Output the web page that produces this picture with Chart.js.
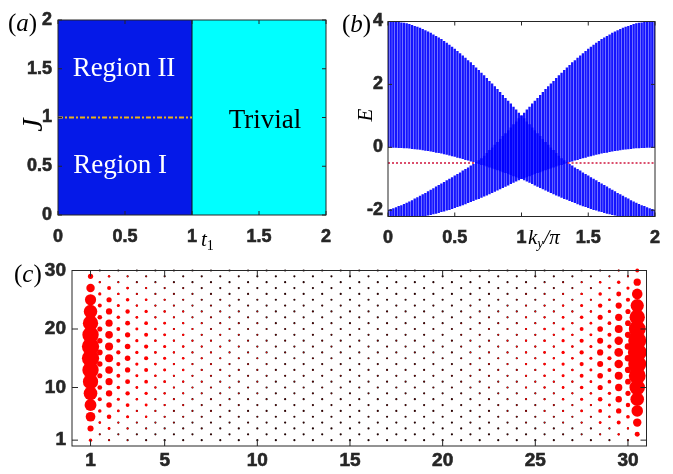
<!DOCTYPE html>
<html>
<head>
<meta charset="utf-8">
<script src="https://cdn.jsdelivr.net/npm/chart.js@4.4.0/dist/chart.umd.min.js"></script>
<style>
  html, body { margin: 0; padding: 0; background: #fff; }
  #wrap { position: relative; width: 673px; height: 474px; }
  #wrap canvas { position: absolute; left: 0; top: 0; }
</style>
</head>
<body>
<div id="wrap">
  <canvas id="phaseChart" width="673" height="474"></canvas>
  <canvas id="bandChart" width="673" height="474"></canvas>
  <canvas id="latticeChart" width="673" height="474"></canvas>
</div>
<script>
// ---- (a) phase diagram ----
const phaseX = [0, 1, 2];          // t1 boundaries of the two phases
const phaseTop = 2;                // J range top
const splitJ = 1;                  // dash-dot line inside region I/II
const aTicksX = [0, 0.5, 1, 1.5, 2];
const aTicksY = [0, 0.5, 1, 1.5, 2];

// ---- (b) spectrum vs ky/pi (first half, the second half is its mirror) ----
const kHalf = [0, 0.02, 0.04, 0.06, 0.08, 0.1, 0.12, 0.14, 0.16, 0.18, 0.2, 0.22, 0.24, 0.26, 0.28, 0.3,
  0.32, 0.34, 0.36, 0.38, 0.4, 0.42, 0.44, 0.46, 0.48, 0.5, 0.52, 0.54, 0.56, 0.58, 0.6, 0.62, 0.64,
  0.66, 0.68, 0.7, 0.72, 0.74, 0.76, 0.78, 0.8, 0.82, 0.84, 0.86, 0.88, 0.9, 0.92, 0.94, 0.96, 0.98, 1];
const upperTop = [4.00, 4.00, 3.99, 3.99, 3.98, 3.96, 3.95, 3.93, 3.91, 3.88, 3.85, 3.82, 3.79, 3.75, 3.71,
  3.67, 3.63, 3.58, 3.53, 3.48, 3.43, 3.37, 3.31, 3.25, 3.19, 3.12, 3.05, 2.98, 2.91, 2.84, 2.76, 2.69,
  2.61, 2.53, 2.45, 2.36, 2.28, 2.19, 2.10, 2.02, 1.93, 1.84, 1.75, 1.65, 1.56, 1.47, 1.38, 1.28, 1.19, 1.09, 1.00];
const upperBot = [0.00, 0.00, 0.00, 0.00, -0.01, -0.01, -0.02, -0.02, -0.03, -0.04, -0.05, -0.06, -0.07, -0.08,
  -0.10, -0.11, -0.12, -0.14, -0.16, -0.17, -0.19, -0.21, -0.23, -0.25, -0.27, -0.29, -0.32, -0.34, -0.36,
  -0.39, -0.41, -0.44, -0.46, -0.49, -0.52, -0.55, -0.57, -0.60, -0.63, -0.66, -0.69, -0.72, -0.75, -0.78,
  -0.81, -0.84, -0.87, -0.91, -0.94, -0.97, -1.00];
const lowerTop = [-2.00, -1.97, -1.95, -1.92, -1.88, -1.85, -1.81, -1.77, -1.73, -1.69, -1.64, -1.60, -1.55,
  -1.50, -1.46, -1.41, -1.36, -1.31, -1.26, -1.21, -1.16, -1.11, -1.06, -1.01, -0.96, -0.91, -0.86, -0.81,
  -0.75, -0.70, -0.65, -0.59, -0.54, -0.48, -0.42, -0.36, -0.28, -0.19, -0.10, -0.02, 0.07, 0.16, 0.25,
  0.35, 0.44, 0.53, 0.62, 0.72, 0.81, 0.91, 1.00];
const lowerBot = [-2.30, -2.30, -2.30, -2.29, -2.29, -2.28, -2.28, -2.27, -2.26, -2.25, -2.24, -2.22, -2.21,
  -2.19, -2.18, -2.16, -2.14, -2.12, -2.10, -2.08, -2.05, -2.03, -2.00, -1.98, -1.95, -1.92, -1.89, -1.86,
  -1.83, -1.80, -1.76, -1.73, -1.70, -1.66, -1.63, -1.59, -1.55, -1.52, -1.48, -1.44, -1.40, -1.36, -1.32,
  -1.28, -1.24, -1.20, -1.16, -1.12, -1.08, -1.04, -1.00];
const edgeE = -0.5;
const edgeLeftK = [0, 0.655];
const edgeRightK = [1.345, 2];
const bTicksX = [0, 0.5, 1, 1.5, 2];
const bTicksY = [-2, 0, 2, 4];

// ---- (c) edge-state weights on the lattice ----
const colX = [1, 1.5, 2, 2.5, 3, 3.5, 4, 4.5, 5, 5.5, 6, 6.5, 7, 7.5, 8, 8.5, 9, 9.5, 10, 10.5,
  11, 11.5, 12, 12.5, 13, 13.5, 14, 14.5, 15, 15.5, 16, 16.5, 17, 17.5, 18, 18.5, 19, 19.5, 20, 20.5,
  21, 21.5, 22, 22.5, 23, 23.5, 24, 24.5, 25, 25.5, 26, 26.5, 27, 27.5, 28, 28.5, 29, 29.5, 30, 30.5];
const oddRows = [1, 3, 5, 7, 9, 11, 13, 15, 17, 19, 21, 23, 25, 27, 29];
const evenRows = [2, 4, 6, 8, 10, 12, 14, 16, 18, 20, 22, 24, 26, 28, 30];
// peak dot radius of each column (px)
const colAmp = [9.0, 2.9, 4.2, 2.2, 2.9, 1.7, 2.2, 1.4, 1.6, 1.2, 1.3, 1.0, 1.0, 0.9, 0.9, 0.8, 0.8, 0.7, 0.7, 0.6,
  0.5, 0.5, 0.5, 0.5, 0.5, 0.5, 0.5, 0.5, 0.5, 0.5, 0.5, 0.5, 0.5, 0.5, 0.5, 0.5, 0.5, 0.5, 0.5, 0.5,
  0.6, 0.7, 0.7, 0.8, 0.8, 0.9, 0.9, 1.2, 1.0, 1.4, 1.2, 1.7, 1.3, 2.2, 1.6, 3.2, 2.2, 4.5, 3.4, 9.6];
// relative weight along y = 1..30
const rowProfile = [0.19, 0.26, 0.34, 0.44, 0.54, 0.60, 0.66, 0.71, 0.76, 0.81, 0.85, 0.88, 0.91, 0.94, 0.96,
  0.97, 0.96, 0.94, 0.91, 0.88, 0.85, 0.80, 0.75, 0.69, 0.62, 0.55, 0.47, 0.38, 0.29, 0.20];
const cTicksX = [1, 5, 10, 15, 20, 25, 30];
const cTicksY = [1, 10, 20, 30];

// ---- shared look ----
const W = 673, H = 474;
const INK = '#262626';
const SERIF = '"Liberation Serif", "Times New Roman", serif';

function padFor(area, yW, xH) {
  return { left: area.left - yW, top: area.top, right: W - area.right, bottom: H - area.bottom - xH };
}

function axis(min, max, vals, pad, fit, size) {
  return {
    type: 'linear', min, max, offset: false,
    grid: { display: false, drawTicks: false },
    border: { display: false },
    afterBuildTicks: s => { s.ticks = vals.map(v => ({ value: v })); },
    afterFit: fit,
    ticks: { font: { family: 'Liberation Sans, Arial, sans-serif', size: size || 18, weight: 'bold' },
      color: INK, padding: pad, maxRotation: 0, autoSkip: false,
      textStrokeColor: INK, textStrokeWidth: 0.6, callback: v => String(v) }
  };
}

function drawRuns(ctx, runs, x, y, align) {
  let total = 0;
  runs.forEach(r => { ctx.font = r.font; total += ctx.measureText(r.t).width; });
  let cx = align === 'center' ? x - total / 2 : x;
  runs.forEach(r => {
    ctx.font = r.font;
    ctx.fillStyle = r.color || '#000';
    ctx.fillText(r.t, cx, y + (r.dy || 0));
    cx += ctx.measureText(r.t).width;
  });
}

// box with inward ticks on all four sides, plus labels
const frame = {
  id: 'frame',
  afterDraw(chart, args, opts) {
    const { ctx, chartArea: a, scales: { x, y } } = chart;
    ctx.save();
    ctx.strokeStyle = INK;
    ctx.lineWidth = 1;
    ctx.strokeRect(a.left, a.top, a.right - a.left, a.bottom - a.top);
    const len = opts.tickLen;
    ctx.beginPath();
    x.ticks.forEach(t => {
      const px = x.getPixelForValue(t.value);
      ctx.moveTo(px, a.bottom); ctx.lineTo(px, a.bottom - len);
      ctx.moveTo(px, a.top); ctx.lineTo(px, a.top + len);
    });
    y.ticks.forEach(t => {
      const py = y.getPixelForValue(t.value);
      ctx.moveTo(a.left, py); ctx.lineTo(a.left + len, py);
      ctx.moveTo(a.right, py); ctx.lineTo(a.right - len, py);
    });
    ctx.stroke();
    ctx.textBaseline = 'alphabetic';
    (opts.texts || []).forEach(tx => {
      let px = tx.x, py = tx.y;
      if (tx.data) { px = x.getPixelForValue(tx.x); py = y.getPixelForValue(tx.y); }
      ctx.save();
      ctx.translate(px, py);
      if (tx.rot) ctx.rotate(tx.rot * Math.PI / 180);
      drawRuns(ctx, tx.runs, 0, 0, tx.align || 'left');
      ctx.restore();
    });
    ctx.restore();
  }
};

function panelLabel(letter, x, y) {
  return { x, y, runs: [
    { t: '(', font: '25px ' + SERIF },
    { t: letter, font: 'italic 25px ' + SERIF },
    { t: ')', font: '25px ' + SERIF }
  ] };
}

const baseOpts = {
  responsive: false,
  animation: false,
  events: [],
  plugins: { legend: { display: false }, tooltip: { enabled: false } }
};

// ---- panel (a) ----
const areaA = { left: 58, top: 20, right: 326, bottom: 215 };
new Chart(document.getElementById('phaseChart'), {
  type: 'line',
  data: {
    datasets: [
      { data: [{ x: phaseX[0], y: phaseTop }, { x: phaseX[1], y: phaseTop }], fill: 'origin',
        backgroundColor: '#0519e8', borderWidth: 0, pointRadius: 0, order: 3 },
      { data: [{ x: phaseX[1], y: phaseTop }, { x: phaseX[2], y: phaseTop }], fill: 'origin',
        backgroundColor: '#00ffff', borderWidth: 0, pointRadius: 0, order: 3 },
      { data: [{ x: phaseX[1], y: 0 }, { x: phaseX[1], y: phaseTop }], borderColor: '#111',
        borderWidth: 1, pointRadius: 0, fill: false, order: 1 },
      { data: [{ x: phaseX[0], y: splitJ }, { x: phaseX[1], y: splitJ }], borderColor: '#e8b21c',
        borderWidth: 2, borderDash: [5, 2, 2, 2], pointRadius: 0, fill: false, order: 0 }
    ]
  },
  options: {
    ...baseOpts,
    layout: { padding: padFor(areaA, 40, 40), autoPadding: false },
    scales: {
      x: axis(0, 2, aTicksX, 11, s => { s.height = 40; }),
      y: axis(0, 2, aTicksY, 6, s => { s.width = 40; })
    },
    plugins: {
      ...baseOpts.plugins,
      frame: {
        tickLen: 4,
        texts: [
          panelLabel('a', 8, 31),
          { x: 42, y: 125, rot: -90, align: 'center', runs: [{ t: 'J', font: 'italic 30px ' + SERIF }] },
          { x: 201, y: 246, runs: [{ t: 't', font: 'italic 21px ' + SERIF }, { t: '1', font: '14px ' + SERIF, dy: 4 }] },
          { data: true, x: 0.4925, y: 1.426, align: 'center', runs: [{ t: 'Region II', font: '27px ' + SERIF, color: '#fff' }] },
          { data: true, x: 0.463, y: 0.434, align: 'center', runs: [{ t: 'Region I', font: '27px ' + SERIF, color: '#fff' }] },
          { data: true, x: 1.545, y: 0.889, align: 'center', runs: [{ t: 'Trivial', font: '27px ' + SERIF, color: '#000' }] }
        ]
      }
    }
  },
  plugins: [frame]
});

// ---- panel (b) ----
function bandBars(top, bot) {
  const pts = kHalf.map((k, i) => ({ x: k, y: [bot[i], top[i]] }));
  for (let i = kHalf.length - 2; i >= 0; i--) pts.push({ x: 2 - kHalf[i], y: [bot[i], top[i]] });
  return pts;
}
const areaB = { left: 388, top: 21.5, right: 655, bottom: 216.5 };
const barStyle = { type: 'bar', backgroundColor: 'rgba(0,0,255,0.92)', barThickness: 1.7, grouped: false, order: 2 };
const edgeStyle = { type: 'line', borderColor: '#d0143c', borderWidth: 1.4, borderDash: [2, 2], pointRadius: 0, fill: false, order: 0 };
new Chart(document.getElementById('bandChart'), {
  type: 'bar',
  data: {
    datasets: [
      { ...barStyle, data: bandBars(upperTop, upperBot) },
      { ...barStyle, data: bandBars(lowerTop, lowerBot) },
      { ...edgeStyle, data: edgeLeftK.map(k => ({ x: k, y: edgeE })) },
      { ...edgeStyle, data: edgeRightK.map(k => ({ x: k, y: edgeE })) }
    ]
  },
  options: {
    ...baseOpts,
    layout: { padding: padFor(areaB, 40, 40), autoPadding: false },
    scales: {
      x: axis(0, 2, bTicksX, 11, s => { s.height = 40; }),
      y: axis(-2.2, 4, bTicksY, 5, s => { s.width = 40; })
    },
    plugins: {
      ...baseOpts.plugins,
      frame: {
        tickLen: 4,
        texts: [
          panelLabel('b', 342, 31.5),
          { x: 372, y: 115, rot: -90, align: 'center', runs: [{ t: 'E', font: 'italic 21px ' + SERIF }] },
          { x: 528, y: 244, runs: [
            { t: 'k', font: 'italic 21px ' + SERIF },
            { t: 'y', font: 'italic 14px ' + SERIF, dy: 4 },
            { t: '/\u03c0', font: 'italic 21px ' + SERIF }
          ] }
        ]
      }
    }
  },
  plugins: [frame]
});

// ---- panel (c) ----
const sites = [];
colX.forEach((x, c) => {
  const rows = Number.isInteger(x) ? oddRows : evenRows;
  rows.forEach(y => sites.push({ x, y, r: colAmp[c] * rowProfile[y - 1] }));
});
const areaC = { left: 72, top: 270.5, right: 646.5, bottom: 446 };
new Chart(document.getElementById('latticeChart'), {
  type: 'scatter',
  data: {
    datasets: [
      { data: sites.map(s => ({ x: s.x, y: s.y })), pointRadius: sites.map(s => s.r),
        pointBackgroundColor: '#ff0000', pointBorderWidth: 0, clip: false, order: 0 },
      { data: sites.map(s => ({ x: s.x, y: s.y })), pointRadius: 1.1,
        pointBackgroundColor: '#1a0000', pointBorderWidth: 0, clip: false, order: 1 }
    ]
  },
  options: {
    ...baseOpts,
    layout: { padding: padFor(areaC, 50, 40), autoPadding: false },
    scales: {
      x: axis(0, 31, cTicksX, 3, s => { s.height = 40; }, 19),
      y: axis(0, 30, cTicksY, 6, s => { s.width = 50; }, 19)
    },
    plugins: {
      ...baseOpts.plugins,
      frame: { tickLen: 6, texts: [panelLabel('c', 14, 282)] }
    }
  },
  plugins: [frame]
});
</script>
</body>
</html>
